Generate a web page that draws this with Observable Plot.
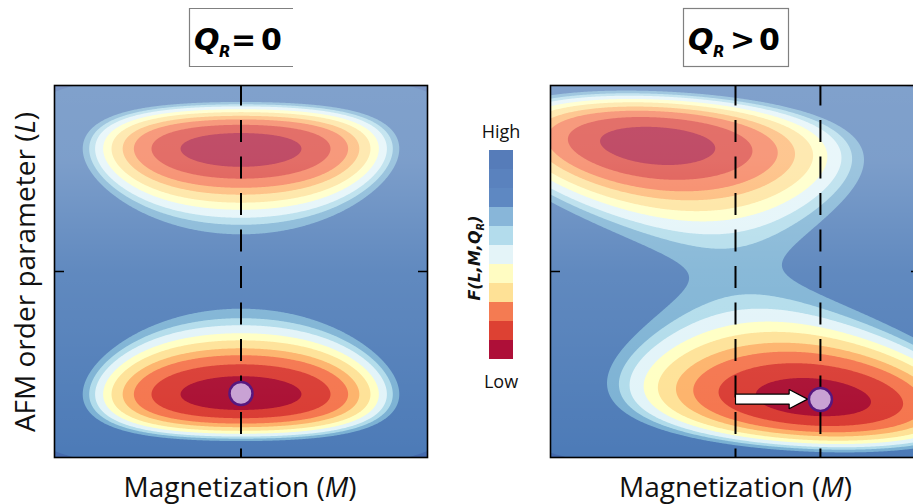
<!DOCTYPE html>
<html>
<head>
<meta charset="utf-8">
<script src="https://cdn.jsdelivr.net/npm/d3@7"></script>
<script src="https://cdn.jsdelivr.net/npm/@observablehq/plot@0.6"></script>
<style>
  html, body { margin: 0; padding: 0; background: #fff; }
  #root { position: relative; width: 913px; height: 504px; overflow: hidden; background: #fff; }
  #root > svg { position: absolute; }
</style>
</head>
<body>
<div id="root"></div>
<script>
// ---------------- data ----------------
// Landau-type free energy F(L,M) = k (L^2 - s)^2 + a M^2 + b M^4 + g L M + c, one value per panel
const panelRelation = ["=", ">"];            // Q_R = 0 , Q_R > 0
const wellK      = [1.0,   0.673];
const wellS      = [0.4356, 0.429];
const stiffA     = [0.12,  0.122];
const stiffB     = [0.135, 0.0146];
const couplingG  = [0.0,   0.1604];
const offsetF    = [0.0,   0.0242];
// contour levels of F and the band colours (low -> high)
const levels     = [0.0141, 0.0348, 0.0543, 0.0702, 0.0892, 0.1059, 0.124, 0.1388, 0.1565, 0.5];
const bandColors = ["#a50026", "#d73027", "#f46d43", "#fdae61", "#fee090", "#ffffbf",
                    "#e0f3f8", "#abd9e9", "#74add1", "#4575b4", "#3d64aa"];
// colour-bar swatches (low -> high)
const cbColors   = ["#ae0f38", "#dd4133", "#f47b52", "#fee196", "#fffcc2", "#e4f4f8",
                    "#b3dcec", "#88b6d9", "#5e88c2", "#5a82be", "#567cb9"];
// dashed guide lines (M values), state markers, arrow
const dashedM    = [[0], [0, 0.459]];
const markerM    = [0, 0.459];
const markerL    = [-0.656, -0.688];
const arrowM     = [0, 0.29, 0.39];          // tail, head base, tip
const arrowL     = -0.686;
const arrowHalf  = [0.027, 0.052];           // shaft, head half-heights (L units)
// white fade over each landscape, top -> bottom
const fadeStops  = [[0, 0.32], [0.2, 0.30], [0.5, 0.15], [1, 0.04]];

// ---------------- layout ----------------
const frameLeft = [54, 550], frameTop = 85, frameW = [373, 370], frameH = 372;
const root = d3.select("#root");

function freeEnergy(p) {
  return (M, L) => wellK[p] * (L * L - wellS[p]) ** 2 + stiffA[p] * M * M + stiffB[p] * M ** 4
                   + couplingG[p] * L * M + offsetF[p];
}

function fade(id) {
  return (index, scales, values, dim) => {
    const g = d3.create("svg:g");
    const lg = g.append("defs").append("linearGradient").attr("id", id)
      .attr("x1", 0).attr("x2", 0).attr("y1", 0).attr("y2", 1);
    for (const [o, a] of fadeStops)
      lg.append("stop").attr("offset", o).attr("stop-color", "#fff").attr("stop-opacity", a);
    g.append("rect")
      .attr("x", dim.marginLeft).attr("y", dim.marginTop)
      .attr("width", dim.width - dim.marginLeft - dim.marginRight)
      .attr("height", dim.height - dim.marginTop - dim.marginBottom)
      .attr("fill", `url(#${id})`);
    return g.node();
  };
}

const [sh, hh] = arrowHalf;
const arrowShape = [
  {M: arrowM[0], L: arrowL + sh}, {M: arrowM[1], L: arrowL + sh}, {M: arrowM[1], L: arrowL + hh},
  {M: arrowM[2], L: arrowL}, {M: arrowM[1], L: arrowL - hh}, {M: arrowM[1], L: arrowL - sh},
  {M: arrowM[0], L: arrowL - sh}, {M: arrowM[0], L: arrowL + sh}
];

function panel(p) {
  const marks = [
    Plot.frame({fill: bandColors[0]}),
    Plot.contour({x1: -1, x2: 1, y1: -1, y2: 1, fill: freeEnergy(p),
                  thresholds: [-10, ...levels], pixelSize: 1}),
    fade("fade" + p),
    Plot.ruleX(dashedM[p], {stroke: "#000", strokeWidth: 2, strokeDasharray: "22,14.5", strokeDashoffset: 1.5})
  ];
  if (p === 1) marks.push(Plot.line(arrowShape, {x: "M", y: "L", fill: "#fff", stroke: "#000", strokeWidth: 1.2, strokeLinejoin: "miter"}));
  marks.push(
    Plot.dot([{M: markerM[p], L: markerL[p]}], {x: "M", y: "L", r: 11.5, fill: "#c9a2d4", stroke: "#57187f", strokeWidth: 2.5}),
    Plot.axisY([0], {anchor: "left", tickSize: -10, tickFormat: () => "", label: null, strokeWidth: 1.5}),
    Plot.axisY([0], {anchor: "right", tickSize: -10, tickFormat: () => "", label: null, strokeWidth: 1.5}),
    Plot.frame({stroke: "#000", strokeWidth: 1.6})
  );
  const svg = Plot.plot({
    width: frameW[p] + 4, height: frameH + 4, margin: 2,
    x: {domain: [-1, 1], axis: null},
    y: {domain: [-1, 1], axis: null},
    color: {type: "threshold", domain: levels, range: bandColors},
    marks
  });
  d3.select(svg).style("left", (frameLeft[p] - 2) + "px").style("top", (frameTop - 2) + "px")
    .style("position", "absolute").style("overflow", "visible");
  root.node().appendChild(svg);
}
panel(0);
panel(1);

// colour bar
const cb = Plot.plot({
  width: 24, height: 215, margin: 0,
  x: {axis: null}, y: {axis: null, domain: d3.range(cbColors.length - 1, -1, -1), padding: 0},
  color: {type: "identity"},
  marks: [Plot.cell(cbColors, {y: (d, i) => i, fill: d => d, inset: 0})]
});
d3.select(cb).style("left", "489px").style("top", "147px").style("position", "absolute");
root.node().appendChild(cb);

// ---------------- text ----------------
const t = root.append("svg").attr("width", 913).attr("height", 504)
  .style("left", "0px").style("top", "0px").style("pointer-events", "none");

// title boxes
t.append("path").attr("d", "M293,8.5H189.5V66.5H293").attr("fill", "none").attr("stroke", "#808080").attr("stroke-width", 1.2);
t.append("rect").attr("x", 683.5).attr("y", 8.5).attr("width", 105).attr("height", 58)
  .attr("fill", "none").attr("stroke", "#808080").attr("stroke-width", 1.2);

function title(p, x0, xRel, xZero) {
  const g = t.append("text").attr("font-family", "'DejaVu Sans', sans-serif").attr("font-weight", 700).attr("font-size", 30).attr("fill", "#000");
  g.append("tspan").attr("x", x0).attr("y", 50).attr("font-style", "italic").text("Q");
  g.append("tspan").attr("x", x0 + 25).attr("y", 57).attr("font-size", 15).attr("font-style", "italic").text("R");
  g.append("tspan").attr("x", xRel).attr("y", 50).text(panelRelation[p]);
  g.append("tspan").attr("x", xZero).attr("y", 50).text("0");
}
title(0, 194, 231, 261);
title(1, 688, 730, 759);

// axis labels
for (const cx of [240, 735.5]) {
  const g = t.append("text").attr("x", cx).attr("y", 497).attr("text-anchor", "middle")
    .attr("font-family", "'Open Sans', sans-serif").attr("font-size", 28).attr("fill", "#111");
  g.append("tspan").text("Magnetization (");
  g.append("tspan").attr("font-style", "italic").text("M");
  g.append("tspan").text(")");
}
{
  const g = t.append("text").attr("transform", "translate(35,272) rotate(-90)").attr("text-anchor", "middle")
    .attr("font-family", "'Open Sans', sans-serif").attr("font-size", 28).attr("fill", "#111");
  g.append("tspan").text("AFM order parameter (");
  g.append("tspan").attr("font-style", "italic").text("L");
  g.append("tspan").text(")");
}
// colour bar labels
t.append("text").attr("x", 501).attr("y", 138).attr("text-anchor", "middle")
  .attr("font-family", "'Open Sans', sans-serif").attr("font-size", 18).attr("fill", "#111").text("High");
t.append("text").attr("x", 501).attr("y", 388).attr("text-anchor", "middle")
  .attr("font-family", "'Open Sans', sans-serif").attr("font-size", 18).attr("fill", "#111").text("Low");
{
  const g = t.append("text").attr("transform", "translate(480,258) rotate(-90)").attr("text-anchor", "middle")
    .attr("font-family", "'DejaVu Sans', sans-serif").attr("font-weight", 700).attr("font-style", "italic")
    .attr("font-size", 16).attr("fill", "#111");
  g.append("tspan").text("F(L,M,Q");
  g.append("tspan").attr("dy", 4).attr("font-size", 10).text("R");
  g.append("tspan").attr("dy", -4).text(")");
}
</script>
</body>
</html>
